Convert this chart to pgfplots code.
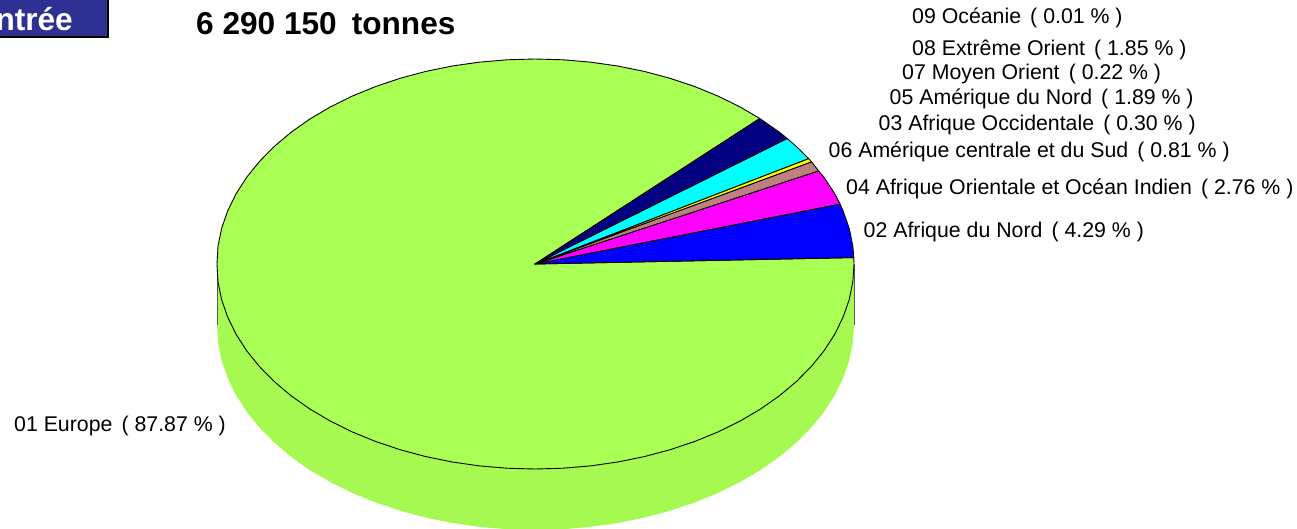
\documentclass[border=0pt]{standalone}
\usepackage{fontspec}
\setmainfont{Liberation Sans}
\usepackage{pgfplots}
\pgfplotsset{compat=1.18}
\definecolor{vert}{HTML}{AAFF55}
\definecolor{vertside}{HTML}{A5F950}
\definecolor{brun}{HTML}{C08080}
\definecolor{marine}{HTML}{000080}
\definecolor{bouton}{HTML}{2E3192}
\definecolor{bleu}{HTML}{0000FF}
\definecolor{rose}{HTML}{FF00FF}
\definecolor{jaune}{HTML}{FFFF00}
\definecolor{turq}{HTML}{00FFFF}
\newcommand{\lab}[3]{\node[anchor=base west,inner sep=0pt,font=\fontsize{21.3}{23}\selectfont] at (axis cs:#1,#2) {#3};}
\begin{document}
\begin{tikzpicture}
\useasboundingbox (0,0) rectangle (1297pt,528pt);
\begin{axis}[
	at={(0,0)},
	anchor=south west,
	hide axis,
	scale only axis,
	width=1297pt,
	height=528pt,
	xmin=0, xmax=1297,
	ymin=0, ymax=528,
	y dir=reverse,
	every axis plot/.append style={line width=0.9pt,line join=round},
]

% side of the pie
\addplot[fill=vertside,draw=none] coordinates {
	(217,264) (217,325) (218,342.87) (221.6,360.60) (227.7,378.06) (236,395.11) (246.6,411.64)
	(259.4,427.5) (274.3,442.58) (291.1,456.77) (309.8,469.96) (330.3,482.04) (352.3,492.93)
	(375.8,502.53) (400.4,510.79) (426,517.64) (452.4,523.01) (479.6,526.89) (507.2,529.22) (535,530)
	(562.8,529.22) (590.4,526.89) (617.6,523.01) (644.1,517.64) (669.8,510.79) (694.5,502.53) (718,492.93)
	(740.1,482.04) (760.6,469.96) (779.4,456.77) (796.3,442.58) (811.3,427.5) (824.1,411.64)
	(834.8,395.11) (843.1,378.06) (849.2,360.60) (852.8,342.87) (854,325) (854,264)
} -- cycle;
\addplot[black!65] coordinates {(217,264) (217,325)};
\addplot[black!65] coordinates {(854,264) (854,325)};

% 01 Europe
\addplot[fill=vert,draw=black] coordinates {
	(535,264) (759.8,118.54) (740.1,106.96) (718,96.07) (694.5,86.47) (669.8,78.21) (644.1,71.36)
	(617.6,65.99) (590.4,62.11) (562.8,59.78) (535,59) (507.2,59.78) (479.6,62.11) (452.4,65.99)
	(426,71.36) (400.4,78.21) (375.8,86.47) (352.3,96.07) (330.3,106.96) (309.8,119.04) (291.1,132.23)
	(274.3,146.42) (259.4,161.5) (246.6,177.36) (236,193.89) (227.7,210.94) (221.6,228.40) (218,246.13)
	(217,264) (218,281.87) (221.6,299.60) (227.7,317.06) (236,334.11) (246.6,350.64) (259.4,366.5)
	(274.3,381.58) (291.1,395.77) (309.8,408.96) (330.3,421.04) (352.3,431.93) (375.8,441.53) (400.4,449.79)
	(426,456.64) (452.4,462.01) (479.6,465.89) (507.2,468.22) (535,469) (562.8,468.22) (590.4,465.89)
	(617.6,462.01) (644.1,456.64) (669.8,449.79) (694.5,441.53) (718,431.93) (740.1,421.04) (760.6,408.96)
	(779.4,395.77) (796.3,381.58) (811.3,366.5) (824.1,350.64) (834.8,334.11) (843.1,317.06) (849.2,299.60)
	(852.8,281.87) (854,264) (853.8,257.56)
} -- cycle;

% 02 Afrique du Nord
\addplot[fill=bleu,draw=black] coordinates {
	(535,264) (853.8,257.56) (852.8,246.13) (849.2,228.40) (843.1,210.94) (840.1,204.06)
} -- cycle;

% 04 Afrique Orientale et Ocean Indien
\addplot[fill=rose,draw=black] coordinates {
	(535,264) (840.1,204.06) (834.8,193.89) (824.1,177.36) (818.6,170.9)
} -- cycle;

% 06 Amerique centrale et du Sud
\addplot[fill=brun,draw=black] coordinates {
	(535,264) (818.6,170.9) (811.5,161.81)
} -- cycle;

% 03 Afrique Occidentale
\addplot[fill=jaune,draw=black] coordinates {
	(535,264) (811.5,161.81) (808.6,158.57)
} -- cycle;

% 05 Amerique du Nord
\addplot[fill=turq,draw=black] coordinates {
	(535,264) (808.6,158.57) (796.3,146.42) (787.2,138.5)
} -- cycle;

% 07 + 08
\addplot[fill=marine,draw=black] coordinates {
	(535,264) (787.2,138.5) (779.4,132.23) (759.8,118.54)
} -- cycle;

\fill[bouton,draw=black,line width=1.6pt] (axis cs:-5,-5) rectangle (axis cs:108,37);
\node[anchor=base east,inner sep=0pt,text=white,font=\fontsize{31.6}{33}\selectfont\bfseries] at (axis cs:73,30) {Entrée};
\node[anchor=base west,inner sep=0pt,font=\fontsize{31.6}{33}\selectfont\bfseries] at (axis cs:196,34) {6 290 150\hspace{0.2em} tonnes};

\lab{912}{23}{09 Océanie\hspace{0.15em} ( 0.01 \% )}
\lab{912}{55}{08 Extrême Orient\hspace{0.15em} ( 1.85 \% )}
\lab{902}{79.3}{07 Moyen Orient\hspace{0.15em} ( 0.22 \% )}
\lab{889.5}{104}{05 Amérique du Nord\hspace{0.15em} ( 1.89 \% )}
\lab{878.5}{130.7}{03 Afrique Occidentale\hspace{0.15em} ( 0.30 \% )}
\lab{828.5}{157.3}{06 Amérique centrale et du Sud\hspace{0.15em} ( 0.81 \% )}
\lab{846}{194}{04 Afrique Orientale et Océan Indien\hspace{0.15em} ( 2.76 \% )}
\lab{863.5}{237.3}{02 Afrique du Nord\hspace{0.15em} ( 4.29 \% )}
\lab{14}{431.7}{01 Europe\hspace{0.15em} ( 87.87 \% )}

\end{axis}
\end{tikzpicture}
\end{document}
